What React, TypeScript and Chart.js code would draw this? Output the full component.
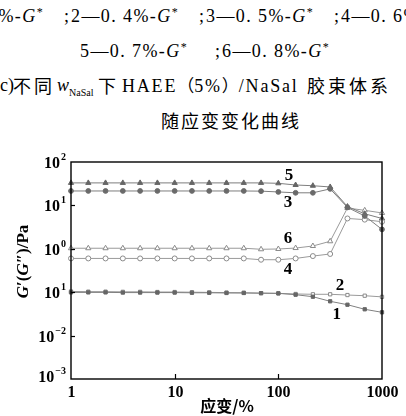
import React, { useEffect, useRef } from "react";
import { Chart, registerables } from "chart.js";
Chart.register(...registerables);

// strain (%) — 6 points per decade
const strain = [1, 1.468, 2.154, 3.162, 4.642, 6.813, 10, 14.68, 21.54, 31.62, 46.42, 68.13, 100, 146.8, 215.4, 316.2, 464.2, 681.3, 1000];

// G* (Pa) for each NaSal content
const g1 = [0.099, 0.099, 0.099, 0.098, 0.098, 0.098, 0.098, 0.097, 0.097, 0.096, 0.096, 0.095, 0.094, 0.0876, 0.0787, 0.0617, 0.0515, 0.0404, 0.0344];
const g2 = [0.104, 0.103, 0.103, 0.102, 0.102, 0.101, 0.101, 0.1, 0.099, 0.098, 0.097, 0.095, 0.094, 0.091, 0.0895, 0.0895, 0.086, 0.083, 0.078];
const g3 = [21.5, 21.5, 21.5, 21.5, 21.5, 21.5, 21.5, 21.5, 21.5, 21.5, 21.5, 21.3, 20.4, 19.5, 19.5, 24.0, 9.0, 5.7, 2.8];
const g4 = [0.6, 0.6, 0.6, 0.6, 0.6, 0.6, 0.6, 0.6, 0.6, 0.6, 0.6, 0.56, 0.56, 0.6, 0.68, 0.76, 5.0, 4.7, 4.2];
const g5 = [33, 33, 33, 33, 33, 33, 33, 33, 33, 33, 33, 33, 32.3, 29.5, 28.4, 26.6, 9.4, 6.4, 5.0];
const g6 = [1.03, 1.03, 1.03, 1.03, 1.03, 1.03, 1.03, 1.03, 1.03, 1.03, 1.03, 0.975, 0.99, 1.04, 1.16, 1.49, 8.7, 7.7, 6.7];

const seriesNames = ["1", "2", "3", "4", "5", "6"];
// series number labels placed in data coordinates (strain, G*)
const labelStrain = [367, 393, 123.8, 123.8, 126.5, 123.8];
const labelG = [0.0306, 0.139, 11.4, 0.333, 48.9, 1.73];

const yTicks = [100, 10, 1, 0.1, 0.01, 0.001];
const yTickBase = ["10", "10", "10", "10", "10", "10"];
const yTickExp = ["2", "1", "0", "1", "\u22122", "\u22123"];
const xTicks = [1, 10, 100, 1000];
const xTickLabels = ["1", "10", "100", "1000"];

const SERIF = "'Liberation Serif', 'DejaVu Serif', serif";
const CJK = "'Noto Sans CJK SC', sans-serif";

const styles = [
  { style: "rect", fill: "#666666", stroke: "#666666", line: "#808080", r: 2.3 },
  { style: "rect", fill: "#ffffff", stroke: "#8a8a8a", line: "#9a9a9a", r: 2.3 },
  { style: "circle", fill: "#6a6a6a", stroke: "#6a6a6a", line: "#7e7e7e", r: 2.4 },
  { style: "circle", fill: "#ffffff", stroke: "#8a8a8a", line: "#9a9a9a", r: 2.5 },
  { style: "triangle", fill: "#666666", stroke: "#666666", line: "#7e7e7e", r: 3 },
  { style: "triangle", fill: "#ffffff", stroke: "#8a8a8a", line: "#9a9a9a", r: 3 },
];

const axisPlugin = {
  id: "axisDraw",
  afterDatasetsDraw(chart: any) {
    const { ctx, chartArea: ca, scales } = chart;
    const xs = scales.x;
    const ys = scales.y;
    ctx.save();
    ctx.strokeStyle = "#000";
    ctx.lineWidth = 1.4;
    ctx.strokeRect(ca.left, ca.top, ca.right - ca.left, ca.bottom - ca.top);
    ctx.fillStyle = "#000";
    ctx.lineWidth = 1.2;
    // y ticks + labels
    yTicks.forEach((v, i) => {
      const py = Math.round(ys.getPixelForValue(v)) + 0.5;
      if (i > 0 && i < yTicks.length - 1) {
        ctx.beginPath();
        ctx.moveTo(ca.left, py);
        ctx.lineTo(ca.left + 4, py);
        ctx.stroke();
      }
      ctx.font = `bold 16px ${SERIF}`;
      const wb = ctx.measureText(yTickBase[i]).width;
      ctx.font = `bold 10px ${SERIF}`;
      const we = ctx.measureText(yTickExp[i]).width;
      const right = ca.left - 5;
      ctx.textBaseline = "middle";
      ctx.textAlign = "left";
      ctx.font = `bold 16px ${SERIF}`;
      const off = i === yTicks.length - 1 ? -3 : 0;
      ctx.fillText(yTickBase[i], right - we - wb - 1, py + 1 + off);
      ctx.font = `bold 10px ${SERIF}`;
      ctx.fillText(yTickExp[i], right - we, py - 5 + off);
    });
    // x ticks + labels
    xTicks.forEach((v, i) => {
      const px = Math.round(xs.getPixelForValue(v)) + 0.5;
      if (i > 0 && i < xTicks.length - 1) {
        ctx.beginPath();
        ctx.moveTo(px, ca.bottom);
        ctx.lineTo(px, ca.bottom - 5);
        ctx.stroke();
      }
      ctx.font = `bold 16px ${SERIF}`;
      ctx.textAlign = "center";
      ctx.textBaseline = "middle";
      ctx.fillText(xTickLabels[i], px, ca.bottom + 14);
    });
    // x title
    ctx.font = `bold 16px ${CJK}`;
    ctx.textAlign = "center";
    ctx.textBaseline = "middle";
    ctx.fillText("应变/%", (ca.left + ca.right) / 2 + 0.5, ca.bottom + 27);
    // y title (rotated)
    const parts = [
      { t: "G", it: true },
      { t: "\u2032(", it: false },
      { t: "G", it: true },
      { t: "\u2033)/Pa", it: false },
    ];
    const fontFor = (it: boolean) => `${it ? "italic " : ""}bold 17px ${SERIF}`;
    let total = 0;
    const widths = parts.map((p) => {
      ctx.font = fontFor(p.it);
      const w = ctx.measureText(p.t).width;
      total += w;
      return w;
    });
    ctx.save();
    ctx.translate(24, (ca.top + ca.bottom) / 2 - 9);
    ctx.rotate(-Math.PI / 2);
    ctx.textAlign = "left";
    ctx.textBaseline = "middle";
    let cx = -total / 2;
    parts.forEach((p, i) => {
      ctx.font = fontFor(p.it);
      ctx.fillText(p.t, cx, 0);
      cx += widths[i];
    });
    ctx.restore();
    // series number labels
    ctx.font = `bold 17px ${SERIF}`;
    ctx.textAlign = "center";
    ctx.textBaseline = "middle";
    seriesNames.forEach((n, i) => {
      ctx.fillText(n, xs.getPixelForValue(labelStrain[i]), ys.getPixelForValue(labelG[i]));
    });
    ctx.restore();
  },
};

function ChartBox() {
  const ref = useRef<HTMLCanvasElement | null>(null);
  useEffect(() => {
    if (!ref.current) return;
    const series = [g1, g2, g3, g4, g5, g6];
    const chart = new Chart(ref.current, {
      type: "line",
      data: {
        datasets: series.map((s, i) => ({
          label: seriesNames[i],
          data: strain.map((x, k) => ({ x, y: s[k] })),
          borderColor: styles[i].line,
          borderWidth: 1,
          pointStyle: styles[i].style as any,
          pointRadius: styles[i].r,
          pointBackgroundColor: styles[i].fill,
          pointBorderColor: styles[i].stroke,
          pointBorderWidth: 1,
          tension: 0,
          fill: false,
          clip: false as any,
        })),
      },
      options: {
        animation: false,
        responsive: false,
        devicePixelRatio: 1,
        layout: { padding: { left: 0, top: 22, right: 24, bottom: 0 } },
        plugins: { legend: { display: false }, tooltip: { enabled: false } },
        events: [],
        scales: {
          x: {
            type: "logarithmic",
            min: 1,
            max: 1000,
            ticks: { display: false },
            grid: { display: false },
            border: { display: false },
            afterFit: (s: any) => {
              s.height = 37;
            },
          },
          y: {
            type: "logarithmic",
            min: 0.001,
            max: 100,
            ticks: { display: false },
            grid: { display: false },
            border: { display: false },
            afterFit: (s: any) => {
              s.width = 71;
            },
          },
        },
      },
      plugins: [axisPlugin],
    });
    return () => chart.destroy();
  }, []);
  return <canvas ref={ref} width={406} height={276} style={{ display: "block" }} />;
}

const capStyle: React.CSSProperties = {
  position: "absolute",
  whiteSpace: "pre",
  fontFamily: SERIF,
  fontSize: "18px",
  color: "#000",
  lineHeight: "20px",
};

const supStyle: React.CSSProperties = { fontSize: "12px", verticalAlign: "6px", lineHeight: 0 };

function Seg({ n, p, semi, w }: { n: string; p: string; semi: boolean; w: number }) {
  return (
    <span style={{ display: "inline-block", width: w, position: "relative", letterSpacing: "1.4px" }}>
      {n}—0. {p}%-<i>G</i>
      <sup style={supStyle}>*</sup>
      {semi ? <span style={{ position: "absolute", left: w - 7, top: 0 }}>;</span> : null}
    </span>
  );
}

export default function App() {
  return (
    <div
      style={{
        position: "fixed",
        left: 0,
        top: 0,
        width: 406,
        height: 416,
        overflow: "hidden",
        background: "#fff",
      }}
    >
      <div style={{ ...capStyle, left: -64, top: 6 }}>
        <Seg n="1" p="3" semi w={135} />
        <Seg n="2" p="4" semi w={135} />
        <Seg n="3" p="5" semi w={135} />
        <Seg n="4" p="6" semi w={135} />
      </div>
      <div style={{ ...capStyle, left: 80, top: 41 }}>
        <Seg n="5" p="7" semi w={142} />
        <Seg n="6" p="8" semi={false} w={142} />
      </div>
      <div style={{ position: "absolute", left: 0, top: 75, width: 406, height: 22 }}>
        <span style={{ ...capStyle, left: -6, top: 0 }}>(c)</span>
        <span style={{ ...capStyle, left: 13, top: 0, fontFamily: CJK, fontSize: "18px", letterSpacing: "3px" }}>不同</span>
        <span style={{ ...capStyle, left: 57, top: 0 }}>
          <i>w</i>
          <sub style={{ fontSize: "10px", lineHeight: 0 }}>NaSal</sub>
        </span>
        <span style={{ ...capStyle, left: 98, top: 0, fontFamily: CJK, fontSize: "18px" }}>下</span>
        <span style={{ ...capStyle, left: 122, top: 0, letterSpacing: "1.8px" }}>
          HAEE<span style={{ fontFamily: CJK, fontSize: "17px", letterSpacing: 0 }}>（</span>5%
          <span style={{ fontFamily: CJK, fontSize: "17px", letterSpacing: 0 }}>）</span>/NaSal
        </span>
        <span style={{ ...capStyle, left: 307, top: 0, fontFamily: CJK, fontSize: "18px", letterSpacing: "3px" }}>胶束体系</span>
      </div>
      <div style={{ ...capStyle, left: 161, top: 110, fontFamily: CJK, fontSize: "18px", letterSpacing: "2px" }}>
        随应变变化曲线
      </div>
      <div style={{ position: "absolute", left: 0, top: 140 }}>
        <ChartBox />
      </div>
    </div>
  );
}
